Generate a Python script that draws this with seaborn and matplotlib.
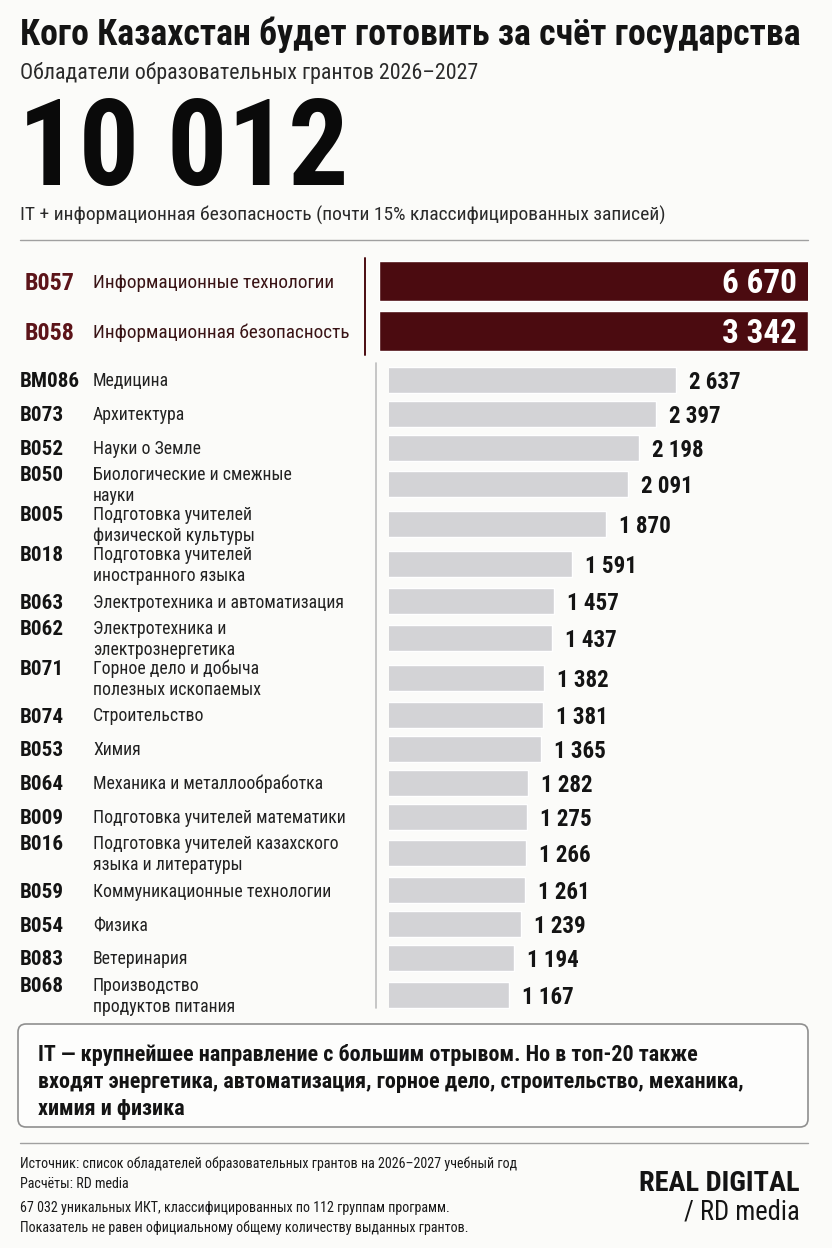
import matplotlib
matplotlib.use("Agg")
import matplotlib.pyplot as plt
import seaborn as sns
import numpy as np
import pandas as pd
from matplotlib import font_manager as fm
from matplotlib.patches import FancyBboxPatch
import warnings
warnings.simplefilter(action="ignore", category=Warning)

# Données
title = "Кого Казахстан будет готовить за счёт государства"
subtitle = "Обладатели образовательных грантов 2026–2027"
headline = "10 012"
headline_note = "IT + информационная безопасность (почти 15% классифицированных записей)"

red_codes = ["B057", "B058"]
red_names = ["Информационные технологии", "Информационная безопасность"]
red_values = [6670, 3342]

codes = ["BM086", "B073", "B052", "B050", "B005", "B018", "B063", "B062", "B071",
         "B074", "B053", "B064", "B009", "B016", "B059", "B054", "B083", "B068"]
names = ["Медицина", "Архитектура", "Науки о Земле", "Биологические и смежные\nнауки",
         "Подготовка учителей\nфизической культуры", "Подготовка учителей\nиностранного языка",
         "Электротехника и автоматизация", "Электротехника и\nэлектрознергетика",
         "Горное дело и добыча\nполезных ископаемых", "Строительство", "Химия",
         "Механика и металлообработка", "Подготовка учителей математики",
         "Подготовка учителей казахского\nязыка и литературы", "Коммуникационные технологии",
         "Физика", "Ветеринария", "Производство\nпродуктов питания"]
values = [2637, 2397, 2198, 2091, 1870, 1591, 1457, 1437, 1382, 1381, 1365, 1282,
          1275, 1266, 1261, 1239, 1194, 1167]

box_lines = ["IT — крупнейшее направление с большим отрывом. Но в топ-20 также",
             "входят энергетика, автоматизация, горное дело, строительство, механика,",
             "химия и физика"]
footer_lines = ["Источник: список обладателей образовательных грантов на 2026–2027 учебный год",
                "Расчёты: RD media",
                "67 032 уникальных ИКТ, классифицированных по 112 группам программ.",
                "Показатель не равен официальному общему количеству выданных грантов."]
brand = "REAL DIGITAL"
brand_sub = "/ RD media"

# Couleurs
BG = "#fbfbf9"
MAROON = "#4b0b10"
MAROON_TXT = "#5c1419"
GREY_BAR = "#d3d3d6"
INK = "#141414"

# Police condensée si disponible
sns.set_theme(style="white")
weights = {}
for f in fm.fontManager.ttflist:
    w = f.weight if isinstance(f.weight, int) else fm.weight_dict.get(f.weight, 400)
    weights.setdefault(f.name, set()).add(w)
family = "DejaVu Sans"
for cand in ["Roboto Condensed", "Fira Sans Condensed", "IBM Plex Sans Condensed",
             "Liberation Sans Narrow", "Roboto"]:
    if cand in weights and 400 in weights[cand] and 700 in weights[cand]:
        family = cand
        break
plt.rcParams["font.family"] = [family, "DejaVu Sans"]
black_w = 900 if 900 in weights.get(family, set()) else "bold"

W, H = 832, 1248
fig = plt.figure(figsize=(W / 100, H / 100), dpi=100, facecolor=BG)
bg = fig.add_axes([0, 0, 1, 1])
bg.set_xlim(0, W)
bg.set_ylim(H, 0)
bg.axis("off")
bg.set_zorder(10)  # textes et traits au-dessus des barres
renderer = fig.canvas.get_renderer()


def fit(s, target, weight="normal"):
    t = bg.text(0, 0, s, fontsize=20, fontweight=weight)
    w = t.get_window_extent(renderer).width
    t.remove()
    return 20 * target / w


def put(x, yc, s, size, **kw):
    # yc = centre vertical des majuscules, en pixels
    base = yc + 0.355 * size * 100 / 72
    return bg.text(x, base, s, fontsize=size, va="baseline", **kw)


def fig_axes(x0, y0, x1, y1):
    return fig.add_axes([x0 / W, 1 - y1 / H, (x1 - x0) / W, (y1 - y0) / H])


# En-tête
put(20, 32, title, fit(title, 780, "bold"), fontweight="bold", color=INK)
put(20, 71, subtitle, fit(subtitle, 456), color="#2a2a2a")
bg.text(18, 185, headline, fontsize=fit(headline, 330, black_w), fontweight=black_w,
        va="baseline", color="#0a0a0a")
put(20, 214, headline_note, fit(headline_note, 644), color="#2a2a2a")
bg.plot([20, 808], [240, 240], color="#a0a0a0", lw=1)

# Bloc IT (barres rouges, même longueur : échelle coupée à la plus petite valeur)
s_rc = fit("B057", 50, "bold")
s_rn = fit("Информационная безопасность", 257)
s_rv = fit("6 670", 75, "bold")
ax_r = fig_axes(379, 256, 808, 356)
red_df = pd.DataFrame({"code": red_codes, "value": red_values})
sns.barplot(data=red_df, x="value", y="code", orient="h", color=MAROON, width=0.8,
            saturation=1, ax=ax_r)
ax_r.set_xlim(0, min(red_values))
ax_r.axis("off")
for i, (c, n, v) in enumerate(zip(red_codes, red_names, red_values)):
    yc = 256 + 50 * i + 25
    put(25, yc, c, s_rc, fontweight="bold", color=MAROON_TXT)
    put(93, yc, n, s_rn, color="#3a1416")
    put(797, yc, f"{v:,}".replace(",", " "), s_rv, fontweight="bold", color="white", ha="right")
bg.plot([365, 365], [258, 355], color=MAROON, lw=1.4)

# Bloc des autres programmes : hauteur de ligne selon le nombre de lignes du libellé
n_lines = [n.count("\n") + 1 for n in names]
half = {1: 16.9, 2: 20.0}
ypos = [380.0]
for a, b in zip(n_lines[:-1], n_lines[1:]):
    ypos.append(ypos[-1] + half[a] + half[b])
ypos = np.array(ypos)

top, bottom = 362, 1010
ax_g = fig_axes(389, top, 808, bottom)
grey_df = pd.DataFrame({"value": values, "y": ypos})
sns.barplot(data=grey_df, x="value", y="y", orient="h", native_scale=True, color=GREY_BAR,
            saturation=1, width=26 / np.diff(ypos).min(), ax=ax_g)
ax_g.set_xscale("log")
ax_g.set_xlim(650, 5020)
ax_g.set_ylim(bottom, top)
ax_g.axis("off")

s_gc = fit("BM086", 60, "bold")
s_gn = fit("Электротехника и автоматизация", 250)
s_gv = fit("2 637", 52, "bold")
for c, n, v, y, k in zip(codes, names, values, ypos, n_lines):
    first = y - 10.5 * (k - 1)
    put(20, first, c, s_gc, fontweight="bold", color=INK)
    for j, line in enumerate(n.split("\n")):
        put(93, first + 21 * j, line, s_gn, color="#222222")
    ax_g.annotate(f"{v:,}".replace(",", " "), xy=(v, y), xytext=(13, 0),
                  textcoords="offset pixels", va="center_baseline", ha="left",
                  fontsize=s_gv, fontweight="bold", color=INK)
bg.plot([375.5, 375.5], [363, 1008], color="#bdbdbd", lw=1.2)

# Encadré de conclusion
box = FancyBboxPatch((18, 1024), 790, 103, boxstyle="round,pad=0,rounding_size=8",
                     facecolor="#fdfdfc", edgecolor="#8f8f8f", lw=1.2)
bg.add_patch(box)
s_box = fit(box_lines[1], 703, "bold")
for j, line in enumerate(box_lines):
    put(38, 1053 + 27 * j, line, s_box, fontweight="bold", color=INK)

# Pied de page
bg.plot([20, 808], [1143, 1143], color="#a0a0a0", lw=1)
s_ft = fit(footer_lines[0], 497)
for line, y in zip(footer_lines, [1163, 1183, 1207, 1227]):
    put(20, y, line, s_ft, color="#1a1a1a")
put(800, 1181, brand, fit(brand, 161, "bold"), fontweight="bold", color=INK, ha="right")
put(800, 1210, brand_sub, fit(brand_sub, 116), color=INK, ha="right")

fig.savefig("out.png", dpi=100, facecolor=BG)
